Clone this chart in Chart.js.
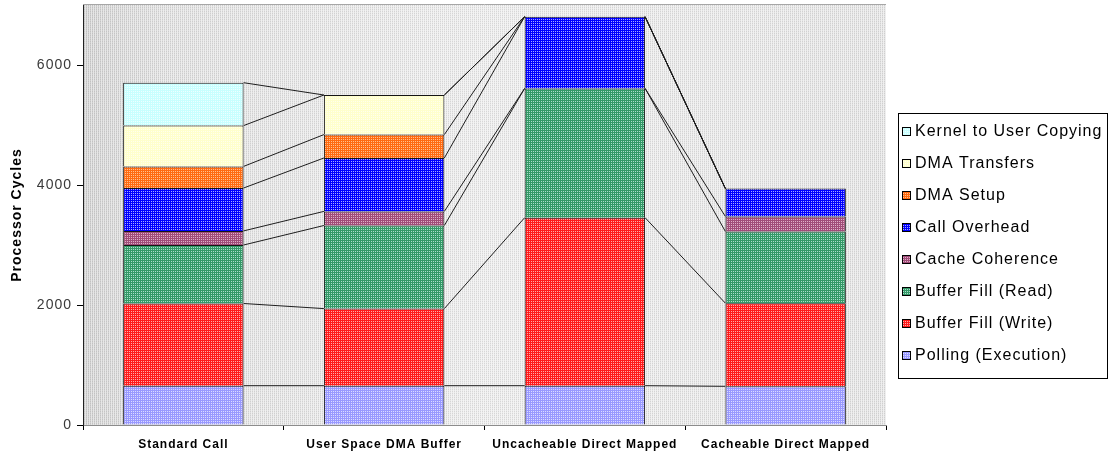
<!DOCTYPE html>
<html>
<head>
<meta charset="utf-8">
<script src="https://cdn.jsdelivr.net/npm/chart.js@4.4.0/dist/chart.umd.min.js"></script>
<style>
  html, body { margin: 0; padding: 0; background: #ffffff; }
  #wrap { width: 1110px; height: 455px; position: relative; }
</style>
</head>
<body>
<div id="wrap"><canvas id="c" width="1110" height="455"></canvas></div>
<script>
// Processor cycles per transfer method, stacked by cost component
const categories = ['Standard Call', 'User Space DMA Buffer', 'Uncacheable Direct Mapped', 'Cacheable Direct Mapped'];
const seriesNames = ['Polling (Execution)', 'Buffer Fill (Write)', 'Buffer Fill (Read)', 'Cache Coherence',
                     'Call Overhead', 'DMA Setup', 'DMA Transfers', 'Kernel to User Copying'];
const polling        = [655, 655, 655, 645];
const bufferWrite    = [1370, 1285, 2800, 1385];
const bufferRead     = [975, 1385, 2155, 1195];
const cacheCoherence = [235, 235, 0, 250];
const callOverhead   = [715, 890, 1195, 465];
const dmaSetup       = [360, 390, 0, 0];
const dmaTransfers   = [680, 660, 0, 0];
const kernelCopy     = [715, 0, 0, 0];
const yTicks = [0, 2000, 4000, 6000];

const series = [polling, bufferWrite, bufferRead, cacheCoherence, callOverhead, dmaSetup, dmaTransfers, kernelCopy];

// base colour + dot colour for the stippled fills
const fills = [
  ['#9999ff', '#dcdcff'],
  ['#ff1a1a', '#ffaaaa'],
  ['#339966', '#aaddcc'],
  ['#a04c78', '#e0b0c8'],
  ['#0000ff', '#aaaaff'],
  ['#ff6a10', '#ffc090'],
  ['#ffffcc', '#ffffee'],
  ['#c8ffff', '#eeffff']
];

const canvas = document.getElementById('c');
const ctx = canvas.getContext('2d');

function stipple(base, dot) {
  const t = document.createElement('canvas');
  t.width = 2; t.height = 2;
  const g = t.getContext('2d');
  g.fillStyle = base; g.fillRect(0, 0, 2, 2);
  g.fillStyle = dot; g.fillRect(1, 1, 1, 1);
  return ctx.createPattern(t, 'repeat');
}
const patterns = fills.map(f => stipple(f[0], f[1]));

function stripes() {
  const t = document.createElement('canvas');
  t.width = 2; t.height = 2;
  const g = t.getContext('2d');
  g.fillStyle = 'rgba(255,255,255,0.45)';
  g.fillRect(1, 0, 1, 2);
  g.fillStyle = 'rgba(140,140,140,0.22)';
  g.fillRect(0, 1, 1, 1);
  return ctx.createPattern(t, 'repeat');
}
const stripePattern = stripes();

const FONT = "'Liberation Sans', Arial, sans-serif";

// plot-area backdrop and top frame line
const plotBackdrop = {
  id: 'plotBackdrop',
  beforeDraw(chart) {
    const { ctx, chartArea: a } = chart;
    ctx.save();
    const g = ctx.createLinearGradient(a.left, 0, a.right, 0);
    g.addColorStop(0, '#cfcfcf');
    g.addColorStop(0.1, '#dedede');
    g.addColorStop(0.5, '#ebebeb');
    g.addColorStop(1, '#e2e2e2');
    ctx.fillStyle = g;
    ctx.fillRect(a.left, a.top, a.right - a.left, a.bottom - a.top);
    ctx.fillStyle = stripePattern;
    ctx.fillRect(a.left, a.top, a.right - a.left, a.bottom - a.top);
    ctx.strokeStyle = '#a6a6a6';
    ctx.lineWidth = 1;
    ctx.beginPath();
    ctx.moveTo(a.left, a.top - 0.5);
    ctx.lineTo(a.right, a.top - 0.5);
    ctx.stroke();
    ctx.restore();
    ctx.letterSpacing = '1px';
  }
};

// series lines joining the top of each stacked segment between neighbouring bars
const seriesLines = {
  id: 'seriesLines',
  beforeDatasetsDraw(chart) {
    const { ctx } = chart;
    const y = chart.scales.y;
    const ref = chart.getDatasetMeta(0).data;
    const cum = categories.map(() => 0);
    ctx.save();
    ctx.strokeStyle = '#1e1e1e';
    ctx.lineWidth = 1;
    series.forEach(vals => {
      vals.forEach((v, i) => { cum[i] += v; });
      for (let i = 0; i < categories.length - 1; i++) {
        const a = ref[i], b = ref[i + 1];
        ctx.beginPath();
        ctx.moveTo(a.x + a.width / 2, y.getPixelForValue(cum[i]));
        ctx.lineTo(b.x - b.width / 2, y.getPixelForValue(cum[i + 1]));
        ctx.stroke();
      }
    });
    ctx.restore();
  }
};

// boxed legend listing the components from top of stack to bottom
const boxedLegend = {
  id: 'boxedLegend',
  afterDraw(chart) {
    const { ctx } = chart;
    const box = { x: 898.5, y: 113.5, w: 209, h: 265 };
    ctx.save();
    ctx.fillStyle = '#ffffff';
    ctx.fillRect(box.x, box.y, box.w, box.h);
    ctx.strokeStyle = '#000000';
    ctx.lineWidth = 1;
    ctx.strokeRect(box.x, box.y, box.w, box.h);
    ctx.font = '16px ' + FONT;
    ctx.letterSpacing = '1px';
    ctx.textBaseline = 'middle';
    ctx.textAlign = 'left';
    const ds = chart.data.datasets;
    for (let k = 0; k < ds.length; k++) {
      const d = ds[ds.length - 1 - k];
      const cy = 131 + k * 32;
      ctx.fillStyle = d.backgroundColor;
      ctx.fillRect(902, cy - 4, 9, 9);
      ctx.strokeStyle = '#000';
      ctx.strokeRect(902.5, cy - 3.5, 8, 8);
      ctx.fillStyle = '#000';
      ctx.fillText(d.label, 915, cy + 1);
    }
    ctx.restore();
  }
};

new Chart(canvas, {
  type: 'bar',
  data: {
    labels: categories,
    datasets: series.map((vals, i) => ({
      label: seriesNames[i],
      data: vals.map(v => (v === 0 ? null : v)),
      backgroundColor: patterns[i],
      borderColor: '#151515',
      borderWidth: 1,
      barPercentage: 0.6,
      categoryPercentage: 1
    }))
  },
  options: {
    responsive: false,
    animation: false,
    devicePixelRatio: 1,
    layout: { padding: { top: 5, right: 224, left: 0, bottom: 0 } },
    plugins: { legend: { display: false }, tooltip: { enabled: false } },
    scales: {
      x: {
        stacked: true,
        grid: { offset: true, drawOnChartArea: false, tickLength: 5, color: '#000' },
        border: { color: '#8c8c8c' },
        ticks: {
          font: { family: FONT, size: 12, weight: 'bold' },
          color: '#000', padding: 7, maxRotation: 0, autoSkip: false
        },
        afterFit(s) { s.height = 30; s.paddingLeft = 0; s.paddingRight = 0; }
      },
      y: {
        stacked: true,
        min: 0,
        max: 7000,
        grid: { drawOnChartArea: false, tickLength: 6, color: '#000' },
        border: { color: '#222' },
        ticks: {
          stepSize: 2000,
          font: { family: FONT, size: 14 },
          color: '#3a3a3a', padding: 5,
          callback: v => String(v)
        },
        afterBuildTicks(s) { s.ticks = yTicks.map(v => ({ value: v })); },
        title: {
          display: true,
          text: 'Processor Cycles',
          font: { family: FONT, size: 14, weight: 'bold' },
          color: '#000',
          padding: { top: 9, bottom: 0 }
        },
        afterFit(s) { s.width = 83; s.paddingTop = 0; s.paddingBottom = 0; }
      }
    }
  },
  plugins: [plotBackdrop, seriesLines, boxedLegend]
});
</script>
</body>
</html>
